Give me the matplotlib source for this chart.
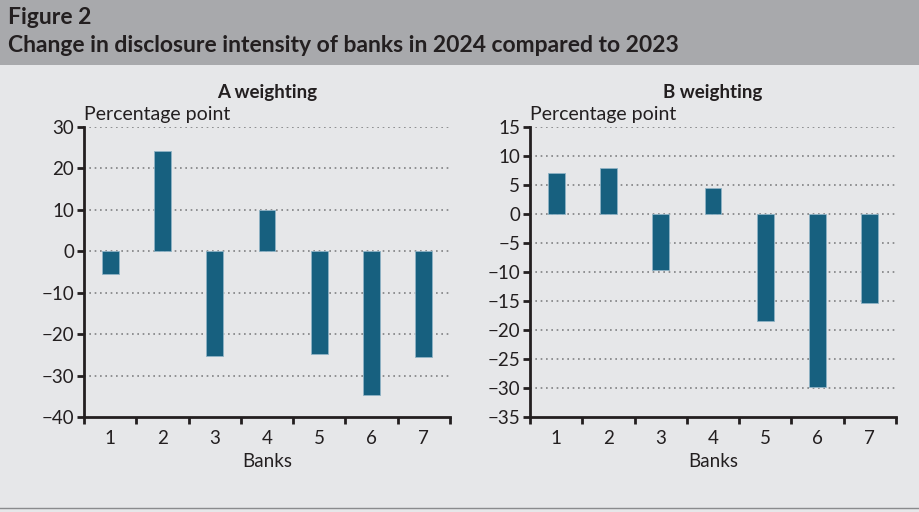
import numpy as np
import matplotlib.pyplot as plt
from matplotlib.patches import Rectangle
from matplotlib.lines import Line2D

banks = [1, 2, 3, 4, 5, 6, 7]
a_weighting = [-5.6, 24.2, -25.3, 10.0, -24.8, -34.7, -25.5]
b_weighting = [7.0, 8.0, -9.6, 4.4, -18.4, -29.8, -15.3]

plt.rcParams['font.family'] = ['Lato', 'DejaVu Sans']
bar_col = '#17607f'
bg = '#e6e7e9'
txt = '#231f20'

fig = plt.figure(figsize=(9.19, 5.12), dpi=100, facecolor=bg)

# header band
fig.patches.append(Rectangle((0, 1 - 65 / 512), 1, 65 / 512, transform=fig.transFigure,
                             facecolor='#a8a9ac', edgecolor='none', zorder=0))
fig.text(8 / 919, 1 - 17 / 512, 'Figure 2', fontsize=16.5, fontweight='bold', color=txt, va='center')
fig.text(8 / 919, 1 - 45 / 512, 'Change in disclosure intensity of banks in 2024 compared to 2023',
         fontsize=16.5, fontweight='bold', color=txt, va='center')
fig.lines.append(Line2D([0, 1], [1 - 508 / 512] * 2, transform=fig.transFigure, color='#8a8b8d', lw=1))


def panel(rect, vals, title, lo, hi, step):
    ax = fig.add_axes(rect)
    ax.set_facecolor(bg)
    ax.bar(banks, vals, width=0.32, color=bar_col, edgecolor='#8fb3c6', linewidth=0.6, zorder=3)
    ax.set_xlim(0.5, 7.5)
    ax.set_ylim(lo, hi)
    ticks = np.arange(lo, hi + step, step)
    ax.set_yticks(ticks)
    ax.set_yticklabels([str(int(t)).replace('-', '\u2212') for t in ticks])
    ax.set_xticks(banks)
    ax.set_xticks(np.arange(0.5, 8, 1), minor=True)
    ax.tick_params(axis='x', which='major', length=0, labelsize=13.5, colors=txt, pad=9)
    ax.tick_params(axis='x', which='minor', length=5, width=2, color=txt)
    ax.tick_params(axis='y', length=5, width=2, color=txt, labelsize=13.5, labelcolor=txt, pad=2)
    for t in ticks[1:]:
        ax.axhline(t, color='#7f8082', lw=1.2, ls=(0, (1, 2.2)), zorder=1)
    for s in ['top', 'right']:
        ax.spines[s].set_visible(False)
    for s in ['left', 'bottom']:
        ax.spines[s].set_linewidth(2)
        ax.spines[s].set_color(txt)
    ax.set_title(title, fontsize=13.5, fontweight='bold', color=txt, pad=21)
    ax.text(0.0, 1.015, 'Percentage point', transform=ax.transAxes, fontsize=14, color=txt,
            ha='left', va='bottom')
    ax.set_xlabel('Banks', fontsize=13.5, color=txt, labelpad=5)
    return ax


panel([84 / 919, 1 - 417 / 512, 366 / 919, 290 / 512], a_weighting, 'A weighting', -40, 30, 10)
panel([530 / 919, 1 - 417 / 512, 366 / 919, 290 / 512], b_weighting, 'B weighting', -35, 15, 5)

fig.savefig('out.png', dpi=100, facecolor=bg)
